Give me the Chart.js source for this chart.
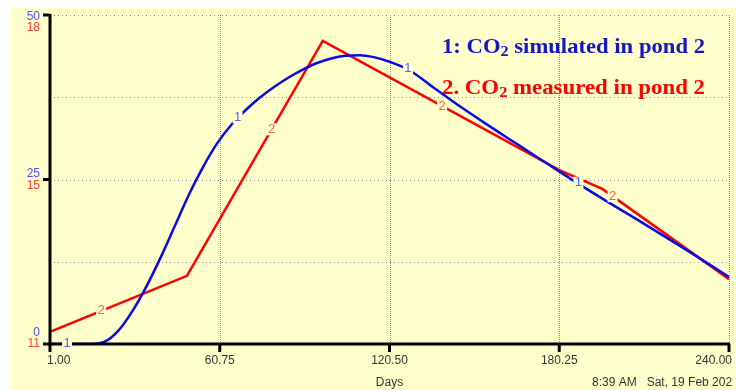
<!DOCTYPE html>
<html>
<head>
<meta charset="utf-8">
<script src="https://cdn.jsdelivr.net/npm/chart.js@4.4.0/dist/chart.umd.min.js"></script>
<style>
html, body { margin: 0; padding: 0; background: #fff; }
#wrap { width: 736px; height: 390px; }
</style>
</head>
<body>
<div id="wrap"><canvas id="graph" width="736" height="390"></canvas></div>
<script>
// simulated CO2 in pond 2 (blue, left scale 0-50)
const simDays = [1, 15, 20, 25, 30, 35, 40, 45, 50, 55, 60, 65, 70, 75, 80, 85, 90, 95, 100, 105, 110, 115, 120.5, 127.5, 135, 145, 155, 165, 175, 185, 195, 210, 225, 240];
const simCO2 = [0, 0, 0.3, 2.0, 5.0, 8.8, 13.2, 18.0, 22.8, 27.0, 30.6, 33.4, 35.6, 37.5, 39.1, 40.5, 41.7, 42.7, 43.4, 43.8, 43.9, 43.6, 42.9, 41.6, 39.3, 36.2, 33.3, 30.5, 27.7, 24.9, 22.2, 18.3, 14.3, 10.2];

// measured CO2 in pond 2 (red, left scale 11-18)
const measDays = [1, 49.2, 97, 180.3, 195.4, 240];
const measCO2 = [11.26, 12.45, 17.45, 14.7, 14.3, 12.38];

const xTicks = [1, 60.75, 120.5, 180.25, 240];
const yTicks = [0, 12.5, 25, 37.5, 50];
const simTickLabels = ['0', '', '25', '', '50'];
const measTickLabels = ['11', '', '15', '', '18'];

// where the little "1" / "2" curve numbers sit
const simMarkDays = [7, 67, 127, 187];
const measMarkDays = [19, 79, 139, 199];

const xTitle = 'Days';
const stampText = '8:39 AM   Sat, 19 Feb 202';

function interp(xs, ys, x) {
    for (let i = 1; i < xs.length; i++) {
        if (x <= xs[i]) {
            const t = (x - xs[i - 1]) / (xs[i] - xs[i - 1]);
            return ys[i - 1] + t * (ys[i] - ys[i - 1]);
        }
    }
    return ys[ys.length - 1];
}

const bg = '#ffffcc';

const vensimLook = {
    id: 'vensimLook',
    beforeDraw(chart) {
        const ctx = chart.ctx;
        ctx.save();
        ctx.fillStyle = '#ffffff';
        ctx.fillRect(0, 0, chart.width, chart.height);
        ctx.fillStyle = bg;
        ctx.fillRect(10, 7, chart.width - 10, chart.height - 7);
        ctx.restore();
    },
    beforeDatasetsDraw(chart) {
        const ctx = chart.ctx;
        const a = chart.chartArea;
        const xs = chart.scales.x, ys = chart.scales.y;
        ctx.save();
        ctx.strokeStyle = '#8a8a8a';
        ctx.lineWidth = 1;
        ctx.setLineDash([1, 3]);
        yTicks.forEach(v => {
            if (v === 0) return;
            const y = Math.round(ys.getPixelForValue(v)) + 0.5;
            ctx.beginPath();
            ctx.moveTo(a.left, y);
            ctx.lineTo(a.right, y);
            ctx.stroke();
        });
        ctx.setLineDash([1, 1]);
        xTicks.forEach(v => {
            if (v === xTicks[0]) return;
            const x = Math.round(xs.getPixelForValue(v)) + 0.5;
            ctx.beginPath();
            ctx.moveTo(x, a.top);
            ctx.lineTo(x, a.bottom);
            ctx.stroke();
        });
        ctx.restore();
    },
    afterDatasetsDraw(chart) {
        const ctx = chart.ctx;
        const a = chart.chartArea;
        const xs = chart.scales.x, ys = chart.scales.y, y2 = chart.scales.y2;
        ctx.save();

        // axes
        ctx.strokeStyle = '#000';
        ctx.lineWidth = 3;
        ctx.beginPath();
        ctx.moveTo(a.left, a.top - 1);
        ctx.lineTo(a.left, a.bottom);
        ctx.lineTo(a.right + 1, a.bottom);
        ctx.stroke();
        yTicks.forEach((v, i) => {
            if (!simTickLabels[i]) return;
            const y = ys.getPixelForValue(v);
            ctx.beginPath();
            ctx.moveTo(a.left - 7, y);
            ctx.lineTo(a.left, y);
            ctx.stroke();
        });
        xTicks.forEach(v => {
            const x = xs.getPixelForValue(v);
            ctx.beginPath();
            ctx.moveTo(x, a.bottom);
            ctx.lineTo(x, a.bottom + 8);
            ctx.stroke();
        });

        // curve numbers
        ctx.font = '13px "Liberation Sans", Arial, sans-serif';
        ctx.textAlign = 'center';
        ctx.textBaseline = 'middle';
        const mark = (txt, color, px, py) => {
            ctx.fillStyle = bg;
            ctx.fillRect(px - 5, py - 6, 10, 12);
            ctx.fillStyle = color;
            ctx.fillText(txt, px, py);
        };
        simMarkDays.forEach(d => {
            mark('1', '#5a5aff', xs.getPixelForValue(d), ys.getPixelForValue(interp(simDays, simCO2, d)) - 1);
        });
        measMarkDays.forEach(d => {
            mark('2', '#ff5a5a', xs.getPixelForValue(d), y2.getPixelForValue(interp(measDays, measCO2, d)));
        });

        // y labels: blue above red
        ctx.font = '12px "Liberation Sans", Arial, sans-serif';
        ctx.textAlign = 'right';
        yTicks.forEach((v, i) => {
            if (!simTickLabels[i]) return;
            const y = ys.getPixelForValue(v);
            let yb = y - 6, yr = y + 6;
            if (i === yTicks.length - 1) { yb = y + 2; yr = y + 13; }
            if (i === 0) { yb = y - 11; yr = y; }
            ctx.fillStyle = '#5050f0';
            ctx.fillText(simTickLabels[i], a.left - 10, yb);
            ctx.fillStyle = '#ff3c3c';
            ctx.fillText(measTickLabels[i], a.left - 10, yr);
        });

        // x labels (ends kept inside the frame)
        ctx.fillStyle = '#333';
        xTicks.forEach((v, i) => {
            let x = xs.getPixelForValue(v);
            ctx.textAlign = 'center';
            if (i === 0) { ctx.textAlign = 'left'; x -= 3; }
            if (i === xTicks.length - 1) { ctx.textAlign = 'right'; x += 3; }
            ctx.fillText(v.toFixed(2), x, a.bottom + 17);
        });
        ctx.textAlign = 'center';
        ctx.fillText(xTitle, xs.getPixelForValue(120.5), a.bottom + 39);
        ctx.textAlign = 'left';
        ctx.fillText(stampText, 592, a.bottom + 39);

        // legend text, stretched to the width it has in the original
        const legend = (num, body, color, y) => {
            const big = 'bold 21px "Liberation Serif", "Times New Roman", serif';
            const small = 'bold 15px "Liberation Serif", "Times New Roman", serif';
            ctx.textBaseline = 'alphabetic';
            ctx.textAlign = 'left';
            ctx.font = big;
            const w1 = ctx.measureText(num + 'CO').width;
            const w3 = ctx.measureText(body).width;
            ctx.font = small;
            const w2 = ctx.measureText('2').width;
            const sx = 263 / (w1 + w2 + w3);
            ctx.save();
            ctx.translate(442, y);
            ctx.scale(sx, 1);
            ctx.fillStyle = color;
            ctx.font = big;
            ctx.fillText(num + 'CO', 0, 0);
            ctx.font = small;
            ctx.fillText('2', w1, 3);
            ctx.font = big;
            ctx.fillText(body, w1 + w2, 0);
            ctx.restore();
        };
        legend('1: ', ' simulated in pond 2', '#1414c8', 53);
        legend('2. ', ' measured in pond 2', '#ff0000', 94);
        ctx.restore();
    }
};

const ctx = document.getElementById('graph').getContext('2d');
window.chartCO2 = new Chart(ctx, {
    type: 'line',
    data: {
        datasets: [{
            label: 'CO2 simulated in pond 2',
            data: simDays.map((d, i) => ({ x: d, y: simCO2[i] })),
            borderColor: '#0a0ae0',
            borderWidth: 2.5,
            pointRadius: 0,
            cubicInterpolationMode: 'monotone',
            yAxisID: 'y',
        }, {
            label: 'CO2 measured in pond 2',
            data: measDays.map((d, i) => ({ x: d, y: measCO2[i] })),
            borderColor: '#ff0000',
            borderWidth: 2.5,
            pointRadius: 0,
            tension: 0,
            yAxisID: 'y2',
        }],
    },
    options: {
        responsive: false,
        animation: false,
        layout: { padding: { left: 50, top: 15, right: 7, bottom: 46 } },
        plugins: { legend: { display: false }, tooltip: { enabled: false } },
        scales: {
            x: { type: 'linear', min: 1, max: 240, display: false },
            y: { min: 0, max: 50, display: false },
            y2: { min: 11, max: 18, display: false },
        },
    },
    plugins: [vensimLook],
});
</script>
</body>
</html>
